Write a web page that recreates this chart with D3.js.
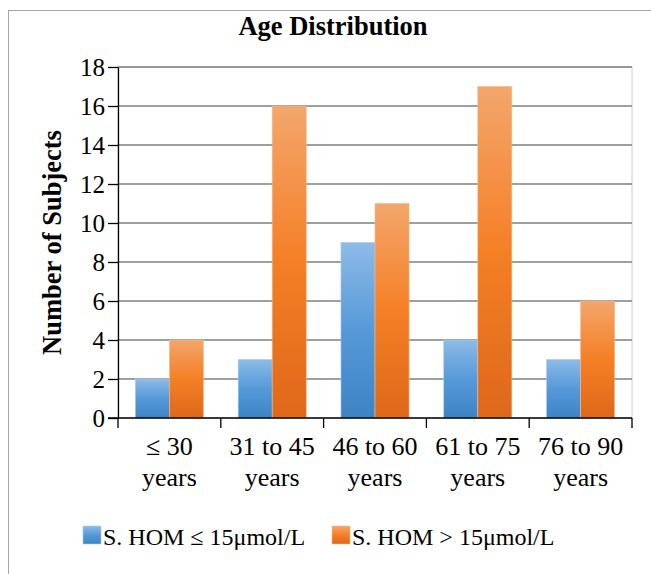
<!DOCTYPE html>
<html>
<head>
<meta charset="utf-8">
<script src="https://cdn.jsdelivr.net/npm/d3@7"></script>
<style>
  body { margin: 0; background: #fff; }
  svg { display: block; }
</style>
</head>
<body>
<script>
const categories = [["\u2264 30", "years"], ["31 to 45", "years"], ["46 to 60", "years"], ["61 to 75", "years"], ["76 to 90", "years"]];
const seriesNames = ["S. HOM \u2264 15\u03bcmol/L", "S. HOM > 15\u03bcmol/L"];
const lowHom = [2, 3, 9, 4, 3];
const highHom = [4, 16, 11, 17, 6];
const yTicks = [0, 2, 4, 6, 8, 10, 12, 14, 16, 18];

const width = 651, height = 574;
const margin = {top: 67, right: 19, bottom: 156, left: 118};
const serif = "'Liberation Serif'";

const svg = d3.select("body").append("svg")
    .attr("width", width)
    .attr("height", height);

const defs = svg.append("defs");
const gradBlue = defs.append("linearGradient").attr("id", "gBlue").attr("x1", 0).attr("y1", 0).attr("x2", 0).attr("y2", 1);
gradBlue.append("stop").attr("offset", "0%").attr("stop-color", "#8dbbe7");
gradBlue.append("stop").attr("offset", "50%").attr("stop-color", "#5699d9");
gradBlue.append("stop").attr("offset", "100%").attr("stop-color", "#3d84c5");
const gradOrange = defs.append("linearGradient").attr("id", "gOrange").attr("x1", 0).attr("y1", 0).attr("x2", 0).attr("y2", 1);
gradOrange.append("stop").attr("offset", "0%").attr("stop-color", "#f3a66c");
gradOrange.append("stop").attr("offset", "50%").attr("stop-color", "#f57f25");
gradOrange.append("stop").attr("offset", "100%").attr("stop-color", "#df671a");
const fills = ["url(#gBlue)", "url(#gOrange)"];

// outer chart frame
svg.append("rect")
    .attr("x", 8.5).attr("y", 10.5)
    .attr("width", 700).attr("height", 700)
    .attr("fill", "none")
    .attr("stroke", "#a6a6a6");

const x = d3.scaleBand()
    .domain(d3.range(categories.length))
    .range([margin.left, width - margin.right]);

const xs = d3.scaleBand()
    .domain([0, 1])
    .range([0, x.bandwidth()])
    .paddingOuter(0.51);

const y = d3.scaleLinear()
    .domain([0, 18])
    .range([height - margin.bottom, margin.top]);

// plot area border
svg.append("rect")
    .attr("x", margin.left).attr("y", margin.top)
    .attr("width", width - margin.right - margin.left)
    .attr("height", y(0) - margin.top)
    .attr("fill", "none")
    .attr("stroke", "#d0d0d0");

// gridlines
svg.append("g")
    .attr("stroke", "#7f7f7f")
    .attr("stroke-width", 1.6)
  .selectAll("line")
  .data(yTicks.filter(d => d > 0))
  .join("line")
    .attr("x1", margin.left).attr("x2", width - margin.right)
    .attr("y1", d => y(d)).attr("y2", d => y(d));

// bars
const groups = svg.append("g")
  .selectAll("g")
  .data(categories.map((c, i) => [lowHom[i], highHom[i]]))
  .join("g")
    .attr("transform", (d, i) => `translate(${x(i)},0)`);

groups.selectAll("rect")
  .data(d => d)
  .join("rect")
    .attr("x", (d, j) => xs(j))
    .attr("y", d => y(d))
    .attr("width", xs.bandwidth())
    .attr("height", d => y(0) - y(d))
    .attr("fill", (d, j) => fills[j])
    .attr("stroke", (d, j) => j ? "#f7b98a" : "#a9cbed")
    .attr("stroke-width", 0.6);

// y axis
const yAxis = svg.append("g")
    .attr("transform", `translate(${margin.left},0)`)
    .call(d3.axisLeft(y).tickValues(yTicks).tickSize(10).tickPadding(3).tickSizeOuter(0));
yAxis.select(".domain").attr("stroke", "#000").attr("stroke-width", 1.3);
yAxis.selectAll(".tick line").attr("stroke", "#000").attr("stroke-width", 1.3);
yAxis.selectAll(".tick text")
    .style("font-family", serif)
    .style("font-size", "25px")
    .attr("dy", "0.34em")
    .attr("fill", "#000");

// x axis line and boundary ticks
const xAxis = svg.append("g").attr("stroke", "#000").attr("stroke-width", 1.3);
xAxis.append("line")
    .attr("x1", margin.left - 10).attr("x2", width - margin.right)
    .attr("y1", y(0)).attr("y2", y(0));
xAxis.selectAll("line.bt")
  .data(d3.range(categories.length + 1))
  .join("line")
    .attr("class", "bt")
    .attr("x1", i => i < categories.length ? x(i) : x(i - 1) + x.bandwidth())
    .attr("x2", i => i < categories.length ? x(i) : x(i - 1) + x.bandwidth())
    .attr("y1", y(0)).attr("y2", y(0) + 10);

svg.append("g")
    .attr("text-anchor", "middle")
  .selectAll("text")
  .data(categories)
  .join("text")
    .style("font-family", serif)
    .style("font-size", "26px")
    .attr("x", (d, i) => x(i) + x.bandwidth() / 2)
    .attr("y", y(0) + 37)
    .each(function(d) {
      d3.select(this).selectAll("tspan")
        .data(d)
        .join("tspan")
          .attr("x", d3.select(this).attr("x"))
          .attr("dy", (t, k) => k ? 31 : 0)
          .text(t => t);
    });

// title
svg.append("text")
    .attr("x", 333).attr("y", 35)
    .attr("text-anchor", "middle")
    .style("font-family", serif)
    .style("font-size", "26.5px")
    .style("font-weight", "bold")
    .text("Age Distribution");

// y label
svg.append("text")
    .attr("transform", `translate(61,${(margin.top + y(0)) / 2}) rotate(-90)`)
    .attr("text-anchor", "middle")
    .style("font-family", serif)
    .style("font-size", "26.5px")
    .style("font-weight", "bold")
    .text("Number of Subjects");

// legend
const legendX = [83, 332];
const legend = svg.append("g")
  .selectAll("g")
  .data(seriesNames)
  .join("g")
    .attr("transform", (d, i) => `translate(${legendX[i]},526)`);
legend.append("rect")
    .attr("width", 18).attr("height", 18)
    .attr("fill", (d, i) => fills[i])
    .attr("stroke", (d, i) => i ? "#f7b98a" : "#a9cbed")
    .attr("stroke-width", 0.6);
legend.append("text")
    .attr("x", 20).attr("y", 19)
    .style("font-family", serif)
    .style("font-size", "24px")
    .text(d => d);
</script>
</body>
</html>
